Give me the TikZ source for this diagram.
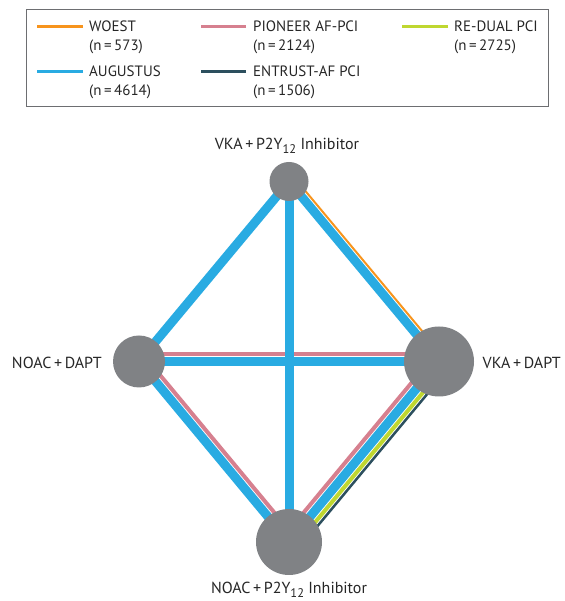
\documentclass[tikz,border=0pt]{standalone}
\usepackage{fontspec}
\setmainfont{PT Sans}
\usetikzlibrary{calc,backgrounds}
\definecolor{cwoest}{HTML}{F7941D}
\definecolor{cpion}{HTML}{D6808F}
\definecolor{credual}{HTML}{BFD730}
\definecolor{caug}{HTML}{29ABE2}
\definecolor{centr}{HTML}{2C4F5E}
\definecolor{cnode}{HTML}{808285}
\definecolor{cbox}{HTML}{6D6E71}
\tikzset{
  augl/.style={draw=caug,line width=9pt},
  pionl/.style={draw=cpion,line width=4pt},
  woestl/.style={draw=cwoest,line width=2pt},
  redl/.style={draw=credual,line width=4pt},
  entrl/.style={draw=centr,line width=2.5pt},
  legline/.style={line width=2.6pt},
  trt/.style={circle,fill=cnode,inner sep=0pt},
  lbl/.style={font=\fontsize{16}{19}\selectfont,inner sep=0pt,text=black!85},
  leg/.style={font=\fontsize{15}{18}\selectfont,inner sep=0pt,anchor=base west,text=black!85},
}
\newcommand{\ptwoy}{P2Y\raisebox{-4pt}{\fontsize{12.5}{13}\selectfont 12}}
\begin{document}
\begin{tikzpicture}[x=1pt,y=1pt]
\useasboundingbox (0,0) rectangle (564,601);
% legend
\draw[cbox,line width=1pt] (26,494) rectangle (548.5,591.5);
\node[leg] (w1) at (89,569) {WOEST};
\node[leg] (w2) at (89,550.3) {(n\,=\,573)};
\node[leg] (p1) at (253,569) {PIONEER AF-PCI};
\node[leg] (p2) at (253,550.3) {(n\,=\,2124)};
\node[leg] (r1) at (454,569) {RE-DUAL PCI};
\node[leg] (r2) at (454,550.3) {(n\,=\,2725)};
\node[leg] (a1) at (89,524.3) {AUGUSTUS};
\node[leg] (a2) at (89,505) {(n\,=\,4614)};
\node[leg] (e1) at (253,524.3) {ENTRUST-AF PCI};
\node[leg] (e2) at (253,505) {(n\,=\,1506)};
\draw[legline,cwoest] ([xshift=-6pt]w1.west) -- ++(-46,0);
\draw[legline,cpion] ([xshift=-7pt]p1.west) -- ++(-45,0);
\draw[legline,credual] ([xshift=-6pt]r1.west) -- ++(-46,0);
\draw[legline,caug] ([xshift=-6pt]a1.west) -- ++(-46,0);
\draw[legline,centr] ([xshift=-7pt]e1.west) -- ++(-45,0);
% treatment nodes
\node[trt,minimum size=39pt] (T) at (289,419.5) {};
\node[trt,minimum size=70pt] (R) at (439,239.5) {};
\node[trt,minimum size=52pt] (L) at (139,239.5) {};
\node[trt,minimum size=66pt] (B) at (289,59) {};
% labels
\node[lbl,anchor=base] (tl) at (287,451) {VKA\,+\,\ptwoy{} Inhibitor};
\node[lbl,anchor=base east] (ll) at (102,232) {NOAC\,+\,DAPT};
\node[lbl,anchor=base west] (rl) at (482.5,232) {VKA\,+\,DAPT};
\node[lbl,anchor=base] (bl) at (289,7) {NOAC\,+\,\ptwoy{} Inhibitor};
% connectors
\begin{pgfonlayer}{background}
\draw[pionl] ($(L.center)!7.5pt!90:(R.center)$) -- ($(R.center)!7.5pt!-90:(L.center)$);
\draw[augl] (L.center) -- (R.center);
\draw[augl] (T.center) -- (B.center);
\draw[augl] (T.center) -- (L.center);
\draw[woestl] ($(T.center)!6.5pt!90:(R.center)$) -- ($(R.center)!6.5pt!-90:(T.center)$);
\draw[augl] (T.center) -- (R.center);
\draw[pionl] ($(L.center)!7.5pt!90:(B.center)$) -- ($(B.center)!7.5pt!-90:(L.center)$);
\draw[augl] (L.center) -- (B.center);
\draw[pionl] ($(B.center)!7.5pt!90:(R.center)$) -- ($(R.center)!7.5pt!-90:(B.center)$);
\draw[redl] ($(B.center)!7.5pt!-90:(R.center)$) -- ($(R.center)!7.5pt!90:(B.center)$);
\draw[entrl] ($(B.center)!11.75pt!-90:(R.center)$) -- ($(R.center)!11.75pt!90:(B.center)$);
\draw[augl] (B.center) -- (R.center);
\end{pgfonlayer}
\end{tikzpicture}
\end{document}
